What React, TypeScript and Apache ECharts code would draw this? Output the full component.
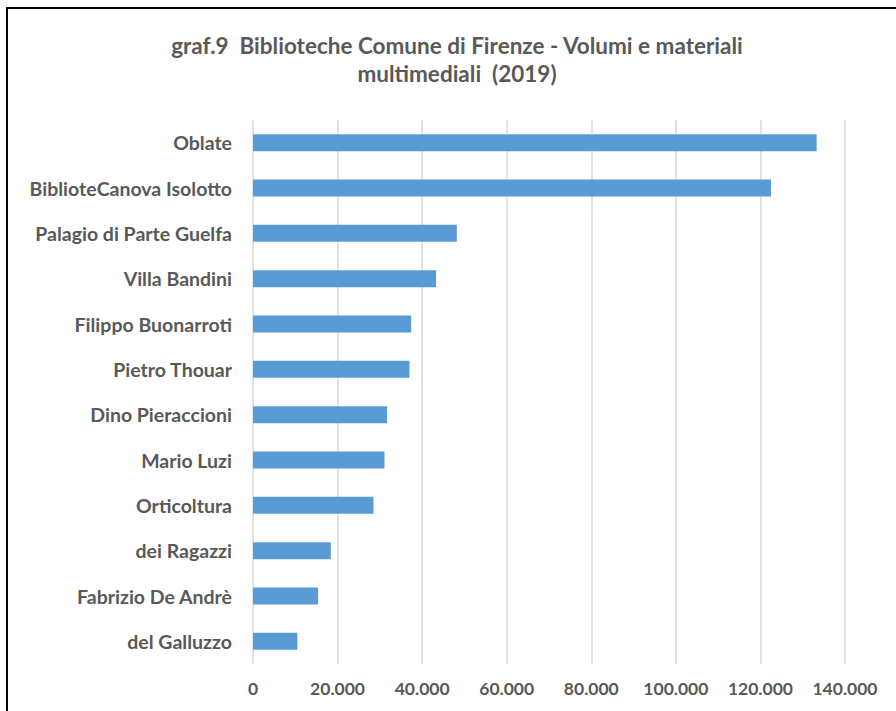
import React, { useEffect, useRef } from "react";
import * as echarts from "echarts";

const categories = [
  "Oblate",
  "BiblioteCanova Isolotto",
  "Palagio di Parte Guelfa",
  "Villa Bandini",
  "Filippo Buonarroti",
  "Pietro Thouar",
  "Dino Pieraccioni",
  "Mario Luzi",
  "Orticoltura",
  "dei Ragazzi",
  "Fabrizio De Andrè",
  "del Galluzzo",
];

const volumes = [
  133300, 122500, 48200, 43300, 37400, 37000, 31700, 31100, 28500, 18400, 15400, 10500,
];

const titleText = "graf.9  Biblioteche Comune di Firenze - Volumi e materiali\nmultimediali  (2019)";

const FONT = "Lato, 'Open Sans', sans-serif";
const GREY = "#595959";

function fmt(v: number): string {
  return String(Math.round(v)).replace(/\B(?=(\d{3})+(?!\d))/g, ".");
}

export default function App() {
  const ref = useRef<HTMLDivElement>(null);
  useEffect(() => {
    if (!ref.current) return;
    const chart = echarts.init(ref.current, null, { renderer: "svg" });
    chart.setOption({
      animation: false,
      backgroundColor: "#ffffff",
      title: {
        text: titleText,
        left: 452,
        top: 26,
        textAlign: "center",
        textStyle: {
          fontFamily: FONT,
          fontSize: 22.5,
          fontWeight: "bold",
          color: GREY,
          lineHeight: 28,
        },
      },
      graphic: [
        {
          type: "rect",
          shape: { x: 7, y: 8, width: 1000, height: 1000 },
          style: { fill: "none", stroke: "#000000", lineWidth: 2 },
          silent: true,
        },
      ],
      grid: { left: 253, right: 51, top: 120, bottom: 47, containLabel: false },
      xAxis: {
        type: "value",
        min: 0,
        max: 140000,
        interval: 20000,
        axisLine: { show: false },
        axisTick: { show: false },
        splitLine: { show: true, lineStyle: { color: "#d9d9d9", width: 1.5 } },
        axisLabel: {
          fontFamily: FONT,
          fontSize: 17.5,
          fontWeight: "bold",
          color: GREY,
          margin: 15,
          formatter: (v: number) => fmt(v),
        },
      },
      yAxis: {
        type: "category",
        data: categories,
        inverse: true,
        axisLine: { show: false },
        axisTick: { show: false },
        axisLabel: {
          fontFamily: FONT,
          fontSize: 19.5,
          fontWeight: "bold",
          color: GREY,
          margin: 21,
        },
      },
      series: [
        {
          type: "bar",
          data: volumes,
          barWidth: 17,
          itemStyle: { color: "#5b9bd5" },
        },
      ],
    });
    return () => chart.dispose();
  }, []);
  return (
    <div
      ref={ref}
      style={{ position: "absolute", left: 0, top: 0, width: 896, height: 711 }}
    />
  );
}
